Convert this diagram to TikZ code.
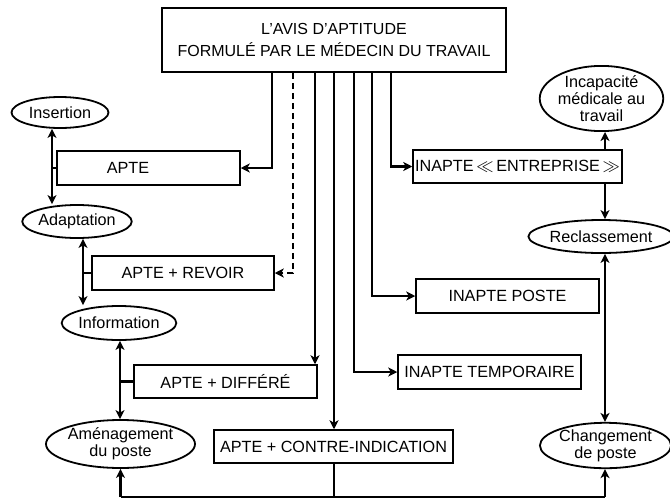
\documentclass[tikz,border=0pt]{standalone}
\usepackage{fontspec}
\setmainfont{Liberation Sans}
\usetikzlibrary{shapes.geometric,arrows.meta}
\begin{document}
\begin{tikzpicture}[x=1pt,y=-1pt,
  every node/.style={font=\fontsize{16.2}{17}\selectfont, inner sep=0pt},
  box/.style={draw, line width=1.5pt, rectangle},
  oval/.style={draw, line width=1.8pt, ellipse, align=center},
  link/.style={line width=2.8pt},
  arr/.style={link, -{Stealth[length=9pt,width=9pt,inset=2.5pt]}},
  darr/.style={link, {Stealth[length=9pt,width=9pt,inset=2.5pt]}-{Stealth[length=9pt,width=9pt,inset=2.5pt]}},
  dashedarr/.style={link, dash pattern=on 6pt off 4pt, -{Stealth[length=9pt,width=9pt,inset=2.5pt]}}]
\useasboundingbox (0,0) rectangle (670,499);

% main decision box
\node[box, minimum width=344pt, minimum height=64pt, align=center,
      font=\fontsize{16}{22}\selectfont] (avis) at (334,40)
  {L'AVIS D'APTITUDE\\FORMULÉ PAR LE MÉDECIN DU TRAVAIL};

% outcome boxes
\node[box, minimum width=183pt, minimum height=34pt] (apte) at (148.5,168) {};
\node (apteLabel) at (128,168) {APTE};
\node[box, minimum width=182pt, minimum height=34pt] (revoir) at (183,273) {APTE + REVOIR};
\node[box, minimum width=183pt, minimum height=33pt] (differe) at (225.5,381.5) {APTE + DIFFÉRÉ};
\node[box, minimum width=239pt, minimum height=33pt] (contre) at (333.5,446.5) {APTE + CONTRE-INDICATION};
\node[box, minimum width=209pt, minimum height=33pt] (entreprise) at (517.5,166.5)
  {INAPTE\,{\fontsize{18}{18}\selectfont$\ll$}\,ENTREPRISE\,{\fontsize{18}{18}\selectfont$\gg$}};
\node[box, minimum width=183pt, minimum height=34pt] (poste) at (507.5,296) {INAPTE POSTE};
\node[box, minimum width=183pt, minimum height=34pt] (temporaire) at (489.5,372) {INAPTE TEMPORAIRE};

% consequences
\node[oval, minimum width=97pt, minimum height=31pt] (insertion) at (60,112.5) {Insertion};
\node[oval, minimum width=96pt, minimum height=33pt] (adaptation) at (77,221.5) {Adaptation};
\node[oval, minimum width=98pt, minimum height=34pt] (information) at (119,323) {Information};
\node[oval, minimum width=125pt, minimum height=48pt] (amenagement) at (120.5,444) {Aménagement\\du poste};
\node[oval, minimum width=123pt, minimum height=63pt] (incapacite) at (601.5,98.5) {Incapacité\\médicale au\\travail};
\node[oval, minimum width=119pt, minimum height=33pt] (reclassement) at (601,236.5) {Reclassement};
\node[oval, minimum width=125pt, minimum height=45pt] (changement) at (605.5,445.5) {Changement\\de poste};

% drop lines from the decision box
\coordinate (v1) at (272,0);
\coordinate (v2) at (293,0);
\coordinate (v3) at (315,0);
\coordinate (v4) at (334,0);
\coordinate (v5) at (354,0);
\coordinate (v6) at (372,0);
\coordinate (v7) at (391,0);

\draw[arr] (avis.south -| v1) |- (apte.east);
\draw[dashedarr] (avis.south -| v2) |- (revoir.east);
\draw[arr] (avis.south -| v3) -- (differe.north -| v3);
\draw[arr] (avis.south -| v4) -- (contre.north -| v4);
\draw[arr] (avis.south -| v5) |- (temporaire.west);
\draw[arr] (avis.south -| v6) |- (poste.west);
\draw[arr] (avis.south -| v7) |- (entreprise.west);

% left spine
\coordinate (s1) at (52,168);
\coordinate (s2) at (83,273);
\coordinate (s3) at (120,381.5);
\draw[darr] (insertion.south -| s1) -- (adaptation.north -| s1);
\draw[link] (s1) -- (apte.west);
\draw[darr] (adaptation.south -| s2) -- (information.north -| s2);
\draw[link] (s2) -- (revoir.west);
\draw[darr] (information.south -| s3) -- (amenagement.north -| s3);
\draw[link] (s3) -- (differe.west);

% right spine
\coordinate (r1) at (605,0);
\draw[arr] (entreprise.north -| r1) -- (incapacite.south -| r1);
\draw[arr] (entreprise.south -| r1) -- (reclassement.north -| r1);
\draw[darr] (reclassement.south -| r1) -- (changement.north -| r1);

% bottom return line
\coordinate (bl) at (120.5,497);
\coordinate (br) at (605,497);
\draw[link] (contre.south -| v4) -- (bl -| v4);
\draw[link] (bl) -- (br);
\draw[arr] (bl) -- (amenagement.south);
\draw[arr] (br) -- (changement.south -| br);
\end{tikzpicture}
\end{document}
